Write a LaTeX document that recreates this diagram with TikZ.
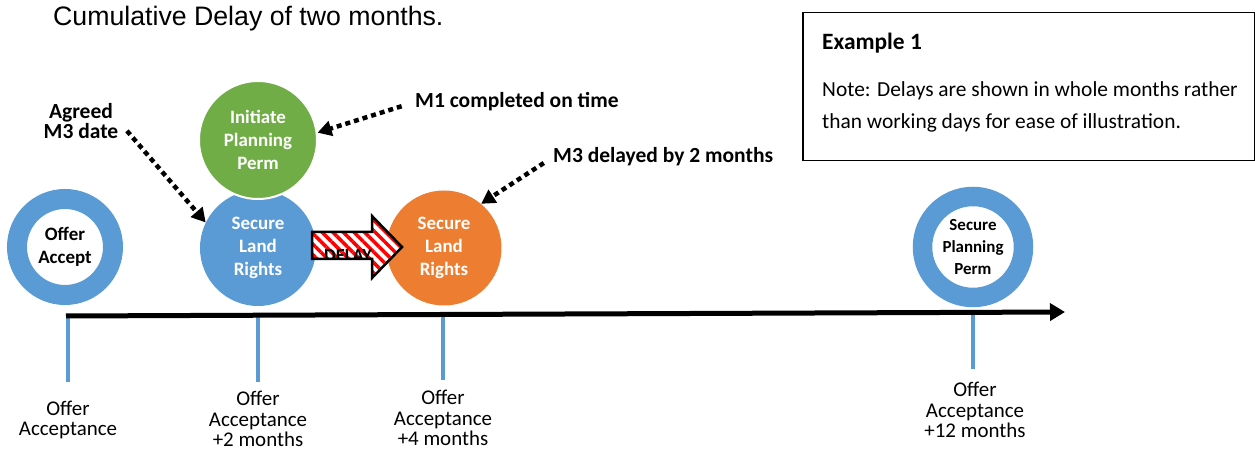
\documentclass[tikz,border=0pt]{standalone}
\usepackage{fontspec}
\setmainfont{Carlito}
\newfontfamily\arialfont{Liberation Sans}
\usetikzlibrary{arrows.meta, patterns.meta}
\definecolor{msblue}{HTML}{5B9BD5}
\definecolor{msgreen}{HTML}{70AD47}
\definecolor{msorange}{HTML}{ED7D31}

\begin{document}
\begin{tikzpicture}[x=1bp, y=-1bp]
	\tikzstyle{ring}=[circle, draw=msblue, line width=20bp, align=center, inner sep=0pt, font=\fontsize{19}{23}\selectfont\bfseries]
	\tikzstyle{disc}=[circle, minimum size=116bp, align=center, inner sep=0pt, text=white, font=\fontsize{19}{23}\selectfont\bfseries]
	\tikzstyle{tick}=[draw=msblue, line width=4bp]
	\tikzstyle{when}=[align=center, inner sep=1bp, font=\fontsize{21}{20.5}\selectfont]
	\tikzstyle{remark}=[align=center, inner sep=0pt, font=\fontsize{21.6}{21}\selectfont\bfseries]
	\tikzstyle{callout}=[line width=4.5bp, dash pattern=on 5bp off 4bp, -{Triangle[length=14bp, width=15bp]}]
	\tikzstyle{hatch}=[preaction={fill=white}, pattern={Lines[angle=-45, distance=7.5bp, line width=3.5bp]}, pattern color=red, draw=black, line width=2.5bp]

	\useasboundingbox (0,0) rectangle (1255,451);

	\node[anchor=west, inner sep=0pt, font=\arialfont\fontsize{26.8}{30}\selectfont] (title) at (53,19) {Cumulative Delay of two months.};

	\node[draw, line width=1.5bp, anchor=north west, minimum width=452bp, minimum height=148bp] (notebox) at (802,12) {};
	\node[anchor=west, inner sep=0pt, font=\fontsize{23.5}{26}\selectfont\bfseries] (example) at (822,43) {Example 1};
	\node[anchor=north west, inner sep=0pt, align=left, font=\fontsize{21.5}{33}\selectfont] (note) at (822,81) {Note: Delays are shown in whole months rather\\than working days for ease of illustration.};

	\node[ring, minimum size=96bp] (oa) at (65,247) {Offer\\Accept};
	\node[ring, minimum size=101bp, line width=19.5bp, font=\fontsize{17}{22.5}\selectfont\bfseries] (spp) at (973,247) {Secure\\Planning\\Perm};
	\node[disc, fill=msblue] (slr) at (258,248) {Secure\\Land\\Rights};
	\node[disc, fill=msgreen, draw=white, line width=2bp, minimum size=118bp] (ipp) at (258,140) {Initiate\\Planning\\Perm};
	\node[disc, fill=msorange, minimum size=115bp] (osr) at (444,248) {Secure\\Land\\Rights};

	\path[hatch] (312,232) -- (372,232) -- (372,216) -- (402,247) -- (372,278) -- (372,259) -- (312,259) -- cycle;
	\begin{scope}
		\clip (313,233) rectangle (390,257.7);
		\node[inner sep=0pt, font=\fontsize{18.5}{20}\selectfont\bfseries] (delay) at (348,256) {DELAY};
	\end{scope}

	\coordinate (m0) at (68,316);
	\coordinate (m2) at (258,317);
	\coordinate (m4) at (443,315);
	\coordinate (m12) at (973,314);
	\coordinate (tend) at (1065,312);
	\draw[tick] (m0) -- ++(0,66);
	\draw[tick] (m2) -- ++(0,65);
	\draw[tick] (m4) -- ++(0,65);
	\draw[tick] (m12) -- ++(0,55);
	\draw[line width=5bp, -{Triangle[length=15bp, width=17bp]}] ([xshift=-2bp]m0) -- (tend);

	\node[when] (lbl0) at (68,420) {Offer\\Acceptance};
	\node[when] (lbl2) at (258,419) {Offer\\Acceptance\\+2 months};
	\node[when] (lbl4) at (443,418) {Offer\\Acceptance\\+4 months};
	\node[when] (lbl12) at (975,410) {Offer\\Acceptance\\+12 months};

	\node[remark] (agreed) at (81,121) {Agreed\\M3 date};
	\node[remark, anchor=west] (m1txt) at (415,102) {M1 completed on time};
	\node[remark, anchor=west] (m3txt) at (553,157) {M3 delayed by 2 months};
	\draw[callout, shorten <=13bp] (agreed.east) -- (slr.154);
	\draw[callout, shorten <=14bp] (m1txt.west) -- (ipp.7);
	\draw[callout, shorten <=11bp] (m3txt.west) -- (osr.50);
\end{tikzpicture}
\end{document}
